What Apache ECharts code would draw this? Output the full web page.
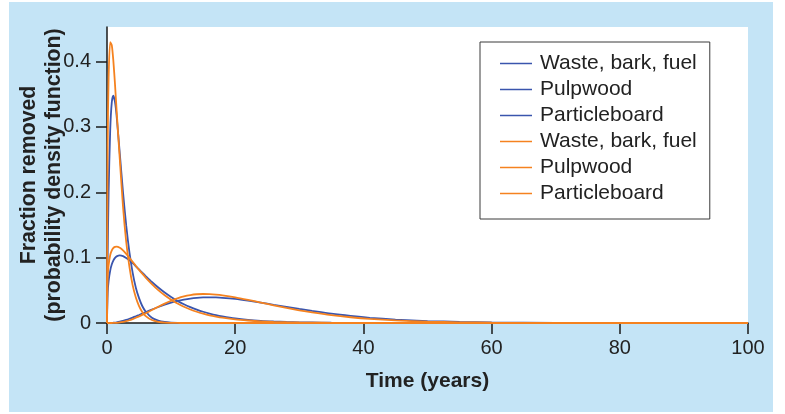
<!DOCTYPE html>
<html>
<head>
<meta charset="utf-8">
<script src="https://cdn.jsdelivr.net/npm/echarts@6/dist/echarts.min.js"></script>
<style>
  html, body { margin: 0; padding: 0; background: #ffffff; }
  #panel { position: absolute; left: 9px; top: 2px; width: 764px; height: 410px; background: #c4e4f6; }
  #chart { position: absolute; left: 0; top: 0; width: 785px; height: 414px; }
</style>
</head>
<body>
<div id="panel"></div>
<div id="chart"></div>
<script>
// Time axis (years) shared by all curves
const years = [0, 0.1, 0.25, 0.5, 0.75, 1, 1.25, 1.5, 2, 2.5, 3, 3.5, 4, 4.5, 5, 5.5, 6, 7, 8, 9, 10, 11, 12, 13, 14, 15, 16, 17, 18, 20, 22, 24, 26, 28, 30, 32, 35, 38, 41, 45, 50, 55, 60, 70, 80, 90, 100];

// Blue curves
const blueWaste = [0, 0.100, 0.199, 0.295, 0.338, 0.348, 0.338, 0.317, 0.259, 0.200, 0.149, 0.108, 0.077, 0.054, 0.038, 0.026, 0.018, 0.0081, 0.0037, 0.0016, 0.0007, 0.0003, 0.0001, 0, 0, 0, 0, 0, 0, 0, 0, 0, 0, 0, 0, 0, 0, 0, 0, 0, 0, 0, 0, 0, 0, 0, 0];
const bluePulp = [0, 0.0456, 0.0639, 0.0802, 0.0898, 0.0958, 0.0996, 0.1019, 0.1035, 0.1024, 0.0996, 0.0959, 0.0915, 0.0868, 0.0819, 0.0770, 0.0722, 0.0628, 0.0543, 0.0466, 0.0398, 0.0338, 0.0287, 0.0243, 0.0205, 0.0172, 0.0145, 0.0121, 0.0102, 0.0071, 0.0049, 0.0034, 0.0024, 0.0016, 0.0011, 0.0008, 0.0004, 0.0002, 0.0001, 0.00006, 0.00002, 0, 0, 0, 0, 0, 0];
const blueParticle = [0, 0, 0.00001, 0.00005, 0.0001, 0.0004, 0.0007, 0.0011, 0.0021, 0.0033, 0.0048, 0.0065, 0.0083, 0.0103, 0.0123, 0.0144, 0.0165, 0.0206, 0.0245, 0.0281, 0.0312, 0.0338, 0.0358, 0.0374, 0.0385, 0.0391, 0.0393, 0.0391, 0.0386, 0.0368, 0.0342, 0.0312, 0.0279, 0.0247, 0.0215, 0.0185, 0.0142, 0.0108, 0.0080, 0.0053, 0.0030, 0.0017, 0.0009, 0.0003, 0.0001, 0, 0];

// Orange curves
const orangeWaste = [0, 0.27, 0.375, 0.43, 0.425, 0.40, 0.365, 0.325, 0.25, 0.178, 0.124, 0.086, 0.058, 0.039, 0.026, 0.017, 0.011, 0.0045, 0.0018, 0.0007, 0.0003, 0.0001, 0, 0, 0, 0, 0, 0, 0, 0, 0, 0, 0, 0, 0, 0, 0, 0, 0, 0, 0, 0, 0, 0, 0, 0, 0];
const orangePulp = [0, 0.069, 0.088, 0.104, 0.111, 0.115, 0.1165, 0.117, 0.115, 0.111, 0.1056, 0.0997, 0.0936, 0.0874, 0.0813, 0.0755, 0.0698, 0.0595, 0.0503, 0.0424, 0.0356, 0.0298, 0.0248, 0.0207, 0.0172, 0.0143, 0.0118, 0.0098, 0.0081, 0.0055, 0.0038, 0.0025, 0.0017, 0.0012, 0.0008, 0.0005, 0.00025, 0.00012, 0.00006, 0.00003, 0, 0, 0, 0, 0, 0, 0];
const orangeParticle = [0, 0, 0, 0.00001, 0.00003, 0.0001, 0.0002, 0.0003, 0.0008, 0.0016, 0.0028, 0.0042, 0.0060, 0.0080, 0.0102, 0.0125, 0.0148, 0.0198, 0.0248, 0.0296, 0.0340, 0.0378, 0.0408, 0.0428, 0.0440, 0.0444, 0.0442, 0.0435, 0.0424, 0.0393, 0.0354, 0.0312, 0.0270, 0.0230, 0.0193, 0.0161, 0.0120, 0.0088, 0.0063, 0.0040, 0.0021, 0.0011, 0.0005, 0.0001, 0, 0, 0];

const labels = ['Waste, bark, fuel', 'Pulpwood', 'Particleboard'];
const xTicks = [0, 20, 40, 60, 80, 100];
const yTicks = [0, 0.1, 0.2, 0.3, 0.4];

const BLUE = '#3a55ad';
const ORANGE = '#f5821f';
const FONT = '"Liberation Sans", Arial, Helvetica, sans-serif';

function pairs(vals) { return years.map((t, i) => [t, vals[i]]); }

const seriesDefs = [
  ['b|' + labels[0], blueWaste, BLUE],
  ['b|' + labels[1], bluePulp, BLUE],
  ['b|' + labels[2], blueParticle, BLUE],
  ['o|' + labels[0], orangeWaste, ORANGE],
  ['o|' + labels[1], orangePulp, ORANGE],
  ['o|' + labels[2], orangeParticle, ORANGE]
];

const chart = echarts.init(document.getElementById('chart'), null, { renderer: 'canvas' });
chart.setOption({
  backgroundColor: 'transparent',
  animation: false,
  textStyle: { fontFamily: FONT },
  grid: { left: 107, top: 27, right: 37, bottom: 91, show: true, backgroundColor: '#ffffff', borderWidth: 0,
          containLabel: false, outerBoundsMode: 'none' },
  legend: {
    orient: 'vertical',
    left: 480, top: 42,
    backgroundColor: '#ffffff',
    borderColor: '#3a3a3a', borderWidth: 1,
    padding: [11, 13, 15, 20],
    itemGap: 5, itemWidth: 32, itemHeight: 1.5,
    icon: 'rect',
    textStyle: { fontFamily: FONT, fontSize: 21, lineHeight: 21, color: '#222222', padding: [0, 0, 0, 3] },
    formatter: (n) => n.split('|')[1],
    data: seriesDefs.map(d => ({ name: d[0], itemStyle: { color: d[2] } }))
  },
  xAxis: {
    type: 'value', min: 0, max: 100, interval: 20,
    name: 'Time (years)', nameLocation: 'middle', nameGap: 48, nameMoveOverlap: false,
    nameTextStyle: { fontFamily: FONT, fontSize: 21, fontWeight: 'bold', color: '#222222' },
    axisLine: { show: true, lineStyle: { color: '#1a1a1a', width: 1.5 } },
    axisTick: { show: true, inside: false, length: 11, lineStyle: { color: '#1a1a1a', width: 1.5 }, customValues: xTicks },
    axisLabel: { fontFamily: FONT, fontSize: 20, color: '#222222', margin: 15, customValues: xTicks },
    splitLine: { show: false }
  },
  yAxis: {
    type: 'value', min: 0, max: 0.453,
    name: 'Fraction removed\n(probability density function)', nameLocation: 'middle', nameGap: 40, nameMoveOverlap: false,
    nameTextStyle: { fontFamily: FONT, fontSize: 21.3, fontWeight: 'bold', color: '#222222', lineHeight: 25 },
    axisLine: { show: true, lineStyle: { color: '#1a1a1a', width: 1.5 } },
    axisTick: { show: true, inside: false, length: 11, lineStyle: { color: '#1a1a1a', width: 1.5 }, customValues: yTicks },
    axisLabel: { fontFamily: FONT, fontSize: 20, color: '#222222', margin: 16, customValues: yTicks,
      formatter: (v) => v === 0 ? '0' : v.toFixed(1) },
    splitLine: { show: false }
  },
  series: seriesDefs.map(([name, vals, color]) => ({
    name, type: 'line', data: pairs(vals), symbol: 'none', smooth: 0.25,
    lineStyle: { color, width: 1.8 }, itemStyle: { color },
    emphasis: { disabled: true }
  }))
});
</script>
</body>
</html>
